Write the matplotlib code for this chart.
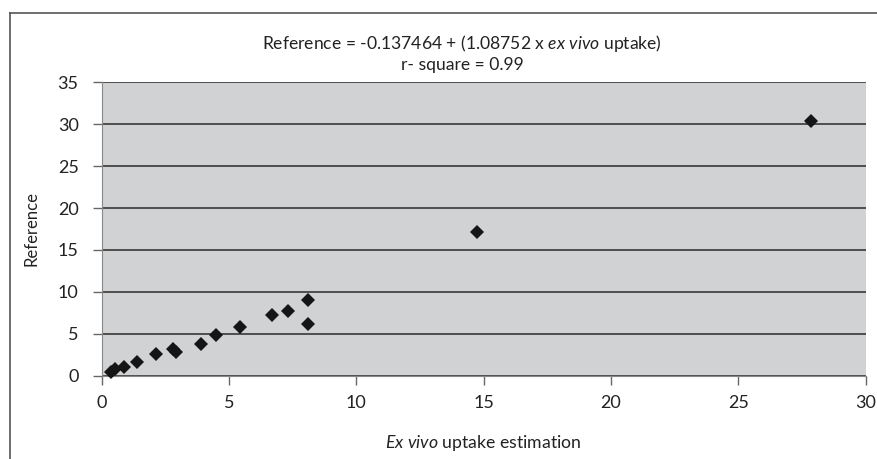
import matplotlib
matplotlib.use("Agg")
import matplotlib.pyplot as plt
from matplotlib.lines import Line2D

# Data
ex_vivo = [0.39, 0.52, 0.89, 1.40, 2.13, 2.82, 2.91, 3.92, 4.49, 5.42,
           6.69, 7.31, 8.11, 8.11, 14.74, 27.85]
reference = [0.41, 0.77, 1.00, 1.68, 2.60, 3.16, 2.87, 3.80, 4.91, 5.75,
             7.30, 7.71, 8.98, 6.16, 17.09, 30.40]
x_ticks = [0, 5, 10, 15, 20, 25, 30]
y_ticks = [0, 5, 10, 15, 20, 25, 30, 35]

FONT = ["Lato", "DejaVu Sans"]
plt.rcParams["font.family"] = FONT
plt.rcParams["mathtext.fontset"] = "custom"
plt.rcParams["mathtext.rm"] = "Lato"
plt.rcParams["mathtext.it"] = "Lato:italic"
plt.rcParams["mathtext.bf"] = "Lato:bold"

fig = plt.figure(figsize=(8.77, 4.59), dpi=100)
W, H = 877, 459

# outer frame (left and top lines)
fig.add_artist(Line2D([10 / W, 10 / W], [0, 1 - 13 / H], transform=fig.transFigure,
                      color="#555555", lw=1.2))
fig.add_artist(Line2D([10 / W, 1], [1 - 13 / H, 1 - 13 / H], transform=fig.transFigure,
                      color="#555555", lw=1.2))

ax = fig.add_axes([101.5 / W, 83.3 / H, (865.7 - 101.5) / W, (375.7 - 82.3) / H])
ax.set_facecolor("#d1d2d4")
ax.set_xlim(0, 30)
ax.set_ylim(0, 35)
ax.set_xticks(x_ticks)
ax.set_yticks(y_ticks)
ax.grid(axis="y", color="#2a2a2a", lw=1.1)
ax.set_axisbelow(True)
for s in ["top", "right"]:
    ax.spines[s].set_visible(False)
ax.spines["left"].set_color("#888888")
ax.spines["bottom"].set_color("#888888")
ax.tick_params(axis="both", direction="out", length=6.5, width=1, color="#666666",
               labelsize=13, labelcolor="#222222")
ax.tick_params(axis="y", pad=10)
ax.tick_params(axis="x", pad=7.5)

ax.plot(ex_vivo, reference, linestyle="none", marker="D", markersize=7.0,
        color="#151515", markeredgewidth=0, clip_on=False, zorder=3)

fig.text(462 / W, 1 - 43 / H,
         "Reference = -0.137464 + (1.08752 x $\\it{ex\\ vivo}$ uptake)",
         ha="center", va="center", fontsize=12.6, color="#222222")
fig.text(462 / W, 1 - 65 / H, "r- square = 0.99",
         ha="center", va="center", fontsize=12.6, color="#222222")

ax.set_xlabel("$\\it{Ex\\ vivo}$ uptake estimation", fontsize=12.7,
              color="#222222", labelpad=16)
ax.set_ylabel("Reference", fontsize=12, color="#222222", labelpad=13)

fig.savefig("out.png", dpi=100)
